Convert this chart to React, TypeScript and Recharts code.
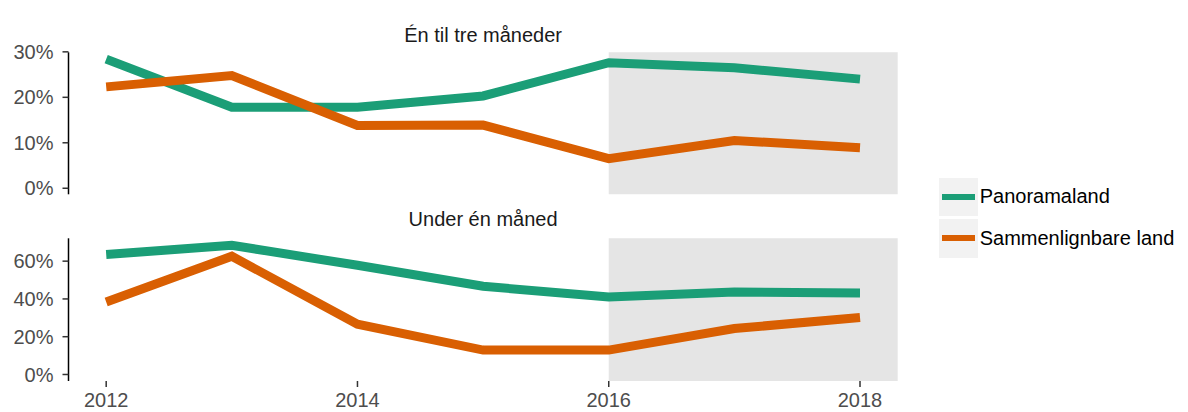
import { LineChart, Line, XAxis, YAxis, ReferenceArea, Legend } from "recharts";

const years = [2012, 2013, 2014, 2015, 2016, 2017, 2018];

// Én til tre måneder (%)
const panoramaTop = [28.4, 17.8, 17.8, 20.3, 27.6, 26.5, 24.0];
const sammenTop = [22.3, 24.8, 13.8, 13.9, 6.5, 10.5, 8.9];

// Under én måned (%)
const panoramaBottom = [63.5, 68.4, 57.8, 46.7, 41.0, 43.7, 43.2];
const sammenBottom = [38.4, 62.6, 26.6, 12.9, 12.9, 24.3, 30.2];

const xTicks = [2012, 2014, 2016, 2018];
const topTicks = [0, 10, 20, 30];
const bottomTicks = [0, 20, 40, 60];

const seriesNames = ["Panoramaland", "Sammenlignbare land"];
const GREEN = "#1b9e77";
const ORANGE = "#d95f02";
const FONT = "'Liberation Sans', Arial, sans-serif";

const topData = years.map((year, i) => ({
  year,
  pan: panoramaTop[i],
  sam: sammenTop[i],
}));
const bottomData = years.map((year, i) => ({
  year,
  pan: panoramaBottom[i],
  sam: sammenBottom[i],
}));

const pct = (v: number) => `${v}%`;

const LegendBox = ({ payload }: any) => (
  <div style={{ fontFamily: FONT }}>
    {(payload || []).map((p: any) => (
      <div
        key={p.value}
        style={{ display: "flex", alignItems: "center", height: 41.7 }}>
        <div
          style={{
            width: 38.7,
            height: 38.3,
            background: "#f2f2f2",
            position: "relative",
          }}>
          <div
            style={{
              position: "absolute",
              left: 3,
              right: 3,
              top: 16,
              height: 6,
              background: p.color,
            }}
          />
        </div>
        <span style={{ fontSize: 20, color: "#000", marginLeft: 2 }}>
          {p.value}
        </span>
      </div>
    ))}
  </div>
);

const titleStyle: React.CSSProperties = {
  position: "absolute",
  left: 68.5,
  width: 829.2,
  textAlign: "center",
  fontFamily: FONT,
  fontSize: 20,
  color: "#1a1a1a",
  lineHeight: "23px",
};

export default function App() {
  const tickStyle = { fill: "#4d4d4d", fontSize: 20, fontFamily: FONT };
  return (
    <div
      style={{
        position: "absolute",
        left: 0,
        top: 0,
        width: 1188,
        height: 412,
        background: "#fff",
      }}>
      <div style={{ position: "absolute", left: 0, top: 0 }}>
        <LineChart
          width={1188}
          height={412}
          data={bottomData}
          margin={{ top: 238.3, right: 290.3, bottom: 0, left: 0.5 }}>
          <ReferenceArea
            x1={2016}
            x2={2018.3}
            fill="#e5e5e5"
            fillOpacity={1}
            stroke="none"
          />
          <XAxis
            dataKey="year"
            type="number"
            domain={[2011.7, 2018.3]}
            allowDataOverflow
            ticks={xTicks}
            axisLine={false}
            tickLine={{ stroke: "#333", strokeWidth: 1.5 }}
            tickSize={6}
            tickMargin={6}
            height={31}
            tick={tickStyle}
          />
          <YAxis
            type="number"
            domain={[-3.45, 72.1]}
            allowDataOverflow
            ticks={bottomTicks}
            tickFormatter={pct}
            width={68}
            axisLine={{ stroke: "#000", strokeWidth: 1.5 }}
            tickLine={{ stroke: "#333", strokeWidth: 1.5 }}
            tickSize={6}
            tickMargin={9}
            tick={tickStyle}
          />
          <Line
            dataKey="pan"
            name={seriesNames[0]}
            stroke={GREEN}
            strokeWidth={9}
            dot={false}
            strokeLinejoin="miter"
            isAnimationActive={false}
          />
          <Line
            dataKey="sam"
            name={seriesNames[1]}
            stroke={ORANGE}
            strokeWidth={9}
            dot={false}
            strokeLinejoin="miter"
            isAnimationActive={false}
          />
          <Legend
            layout="vertical"
            align="center"
            verticalAlign="middle"
            content={<LegendBox />}
            wrapperStyle={{ position: "absolute", left: 939, top: 176, width: 249 }}
          />
        </LineChart>
      </div>
      <div style={{ position: "absolute", left: 0, top: 0 }}>
        <LineChart
          width={1188}
          height={200}
          data={topData}
          margin={{ top: 52.3, right: 290.3, bottom: 5.7, left: 0.5 }}>
          <ReferenceArea
            x1={2016}
            x2={2018.3}
            fill="#e5e5e5"
            fillOpacity={1}
            stroke="none"
          />
          <XAxis
            dataKey="year"
            type="number"
            domain={[2011.7, 2018.3]}
            allowDataOverflow
            hide
            height={0}
          />
          <YAxis
            type="number"
            domain={[-1.33, 29.9]}
            allowDataOverflow
            ticks={topTicks}
            tickFormatter={pct}
            width={68}
            axisLine={{ stroke: "#000", strokeWidth: 1.5 }}
            tickLine={{ stroke: "#333", strokeWidth: 1.5 }}
            tickSize={6}
            tickMargin={9}
            tick={tickStyle}
          />
          <Line
            dataKey="pan"
            name={seriesNames[0]}
            stroke={GREEN}
            strokeWidth={9}
            dot={false}
            strokeLinejoin="miter"
            isAnimationActive={false}
          />
          <Line
            dataKey="sam"
            name={seriesNames[1]}
            stroke={ORANGE}
            strokeWidth={9}
            dot={false}
            strokeLinejoin="miter"
            isAnimationActive={false}
          />
        </LineChart>
      </div>
      <div style={{ ...titleStyle, top: 24 }}>Én til tre måneder</div>
      <div style={{ ...titleStyle, top: 208 }}>Under én måned</div>
    </div>
  );
}
